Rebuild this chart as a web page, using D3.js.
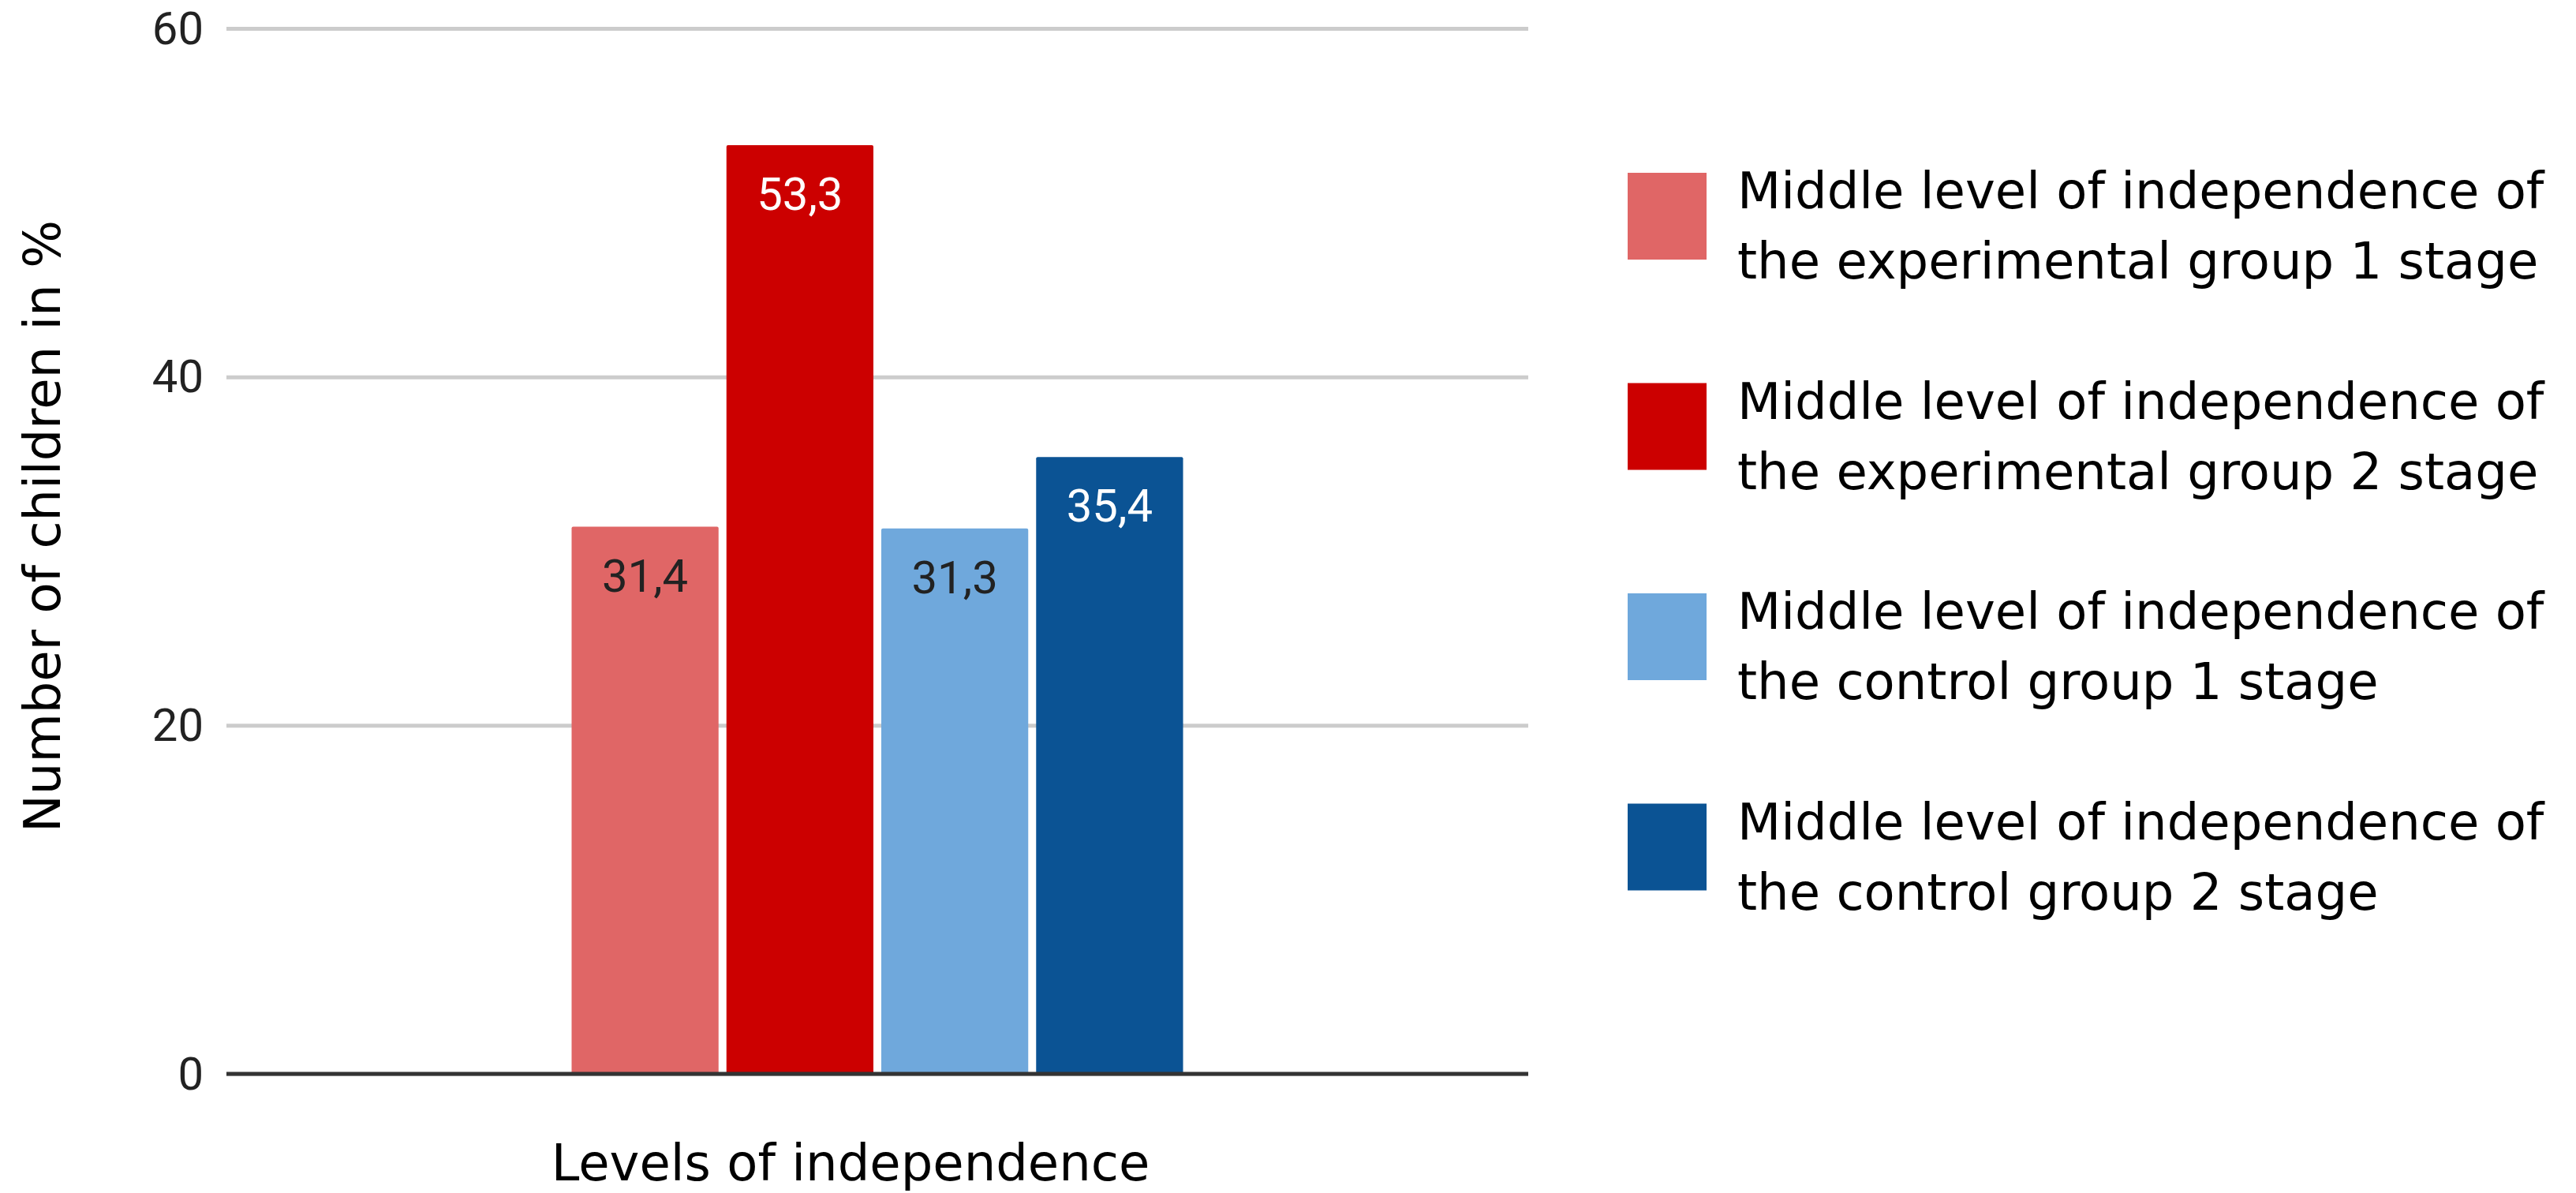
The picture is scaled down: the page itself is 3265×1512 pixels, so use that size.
<!DOCTYPE html>
<html>
<head>
<meta charset="utf-8">
<script src="https://cdn.jsdelivr.net/npm/d3@7"></script>
<style>
  body { margin: 0; background: #fff; }
  svg { display: block; }
</style>
</head>
<body>
<div class="chart-area"></div>
<script>
// chart data
const categories = ['Levels of independence'];
const seriesNames = [
  ['Middle level of independence of', 'the experimental group 1 stage'],
  ['Middle level of independence of', 'the experimental group 2 stage'],
  ['Middle level of independence of', 'the control group 1 stage'],
  ['Middle level of independence of', 'the control group 2 stage'],
];
const seriesValues = [31.4, 53.3, 31.3, 35.4];
const seriesColors = ['#e06666', '#cc0000', '#6fa8dc', '#0b5394'];
const labelColors = ['#222222', '#ffffff', '#222222', '#ffffff'];
const yTicks = [0, 20, 40, 60];
const yTitle = 'Number of children in %';
const xTitle = 'Levels of independence';

const size = { width: 3265, height: 1512 };
const plot = { left: 287, right: 1937, top: 36, bottom: 1361 };
const titleFont = '"DejaVu Sans", sans-serif';
const titleSize = 64;
const numberFont = 'Roboto, sans-serif';

const commaLocale = d3.formatLocale({ decimal: ',', thousands: ' ', grouping: [3], currency: ['', ''] });
const formatValue = commaLocale.format('.1f');

const svg = d3.select('.chart-area')
  .append('svg')
  .attr('width', size.width)
  .attr('height', size.height);

svg.append('rect')
  .attr('width', size.width)
  .attr('height', size.height)
  .attr('fill', '#ffffff');

const y = d3.scaleLinear().domain([0, 60]).range([plot.bottom, plot.top]);

const x = d3.scaleBand()
  .domain(categories)
  .range([plot.left, plot.right])
  .paddingOuter(0.5645);

const xSeries = d3.scaleBand()
  .domain(d3.range(seriesValues.length))
  .range([0, x.bandwidth()])
  .paddingInner(0.051);

// gridlines and tick labels
const yAxis = svg.append('g')
  .attr('transform', `translate(${plot.left},0)`)
  .call(d3.axisLeft(y)
    .tickValues(yTicks)
    .tickSize(-(plot.right - plot.left))
    .tickPadding(29)
    .tickFormat(d3.format('d')));

yAxis.select('.domain').remove();
yAxis.selectAll('.tick line')
  .attr('stroke', '#cccccc')
  .attr('stroke-width', 5);
yAxis.selectAll('.tick text')
  .attr('fill', '#222222')
  .attr('font-family', numberFont)
  .attr('font-size', 58)
  .attr('dy', '0.33em');

// bars
const group = svg.append('g')
  .attr('transform', `translate(${x(categories[0])},0)`);

const bars = group.selectAll('g.bar')
  .data(seriesValues)
  .enter()
  .append('g')
  .attr('class', 'bar');

bars.append('rect')
  .attr('x', (_d, i) => xSeries(i))
  .attr('y', d => y(d))
  .attr('width', xSeries.bandwidth())
  .attr('height', d => y(0) - y(d))
  .attr('rx', 2)
  .attr('fill', (_d, i) => seriesColors[i]);

bars.append('text')
  .attr('x', (_d, i) => xSeries(i) + xSeries.bandwidth() / 2)
  .attr('y', d => y(d) + 82)
  .attr('text-anchor', 'middle')
  .attr('font-family', numberFont)
  .attr('font-size', 58)
  .attr('fill', (_d, i) => labelColors[i])
  .text(d => formatValue(d));

// baseline
svg.append('line')
  .attr('x1', plot.left)
  .attr('x2', plot.right)
  .attr('y1', y(0))
  .attr('y2', y(0))
  .attr('stroke', '#333333')
  .attr('stroke-width', 5);

// axis titles
svg.append('text')
  .attr('transform', `translate(76,667) rotate(-90)`)
  .attr('text-anchor', 'middle')
  .attr('font-family', titleFont)
  .attr('font-size', titleSize)
  .attr('fill', '#000000')
  .text(yTitle);

svg.append('text')
  .attr('x', 1078)
  .attr('y', 1496)
  .attr('text-anchor', 'middle')
  .attr('font-family', titleFont)
  .attr('font-size', titleSize)
  .attr('fill', '#000000')
  .text(xTitle);

// legend
const legend = svg.append('g')
  .attr('transform', 'translate(2063,219)');

const items = legend.selectAll('g')
  .data(seriesNames)
  .enter()
  .append('g')
  .attr('transform', (_d, i) => `translate(0,${i * 266.5})`);

items.append('rect')
  .attr('width', 100)
  .attr('height', 110)
  .attr('fill', (_d, i) => seriesColors[i]);

items.append('text')
  .attr('font-family', titleFont)
  .attr('font-size', titleSize)
  .attr('fill', '#000000')
  .selectAll('tspan')
  .data(d => d)
  .enter()
  .append('tspan')
  .attr('x', 139)
  .attr('y', (_d, i) => 45 + i * 89)
  .text(d => d);
</script>
</body>
</html>
